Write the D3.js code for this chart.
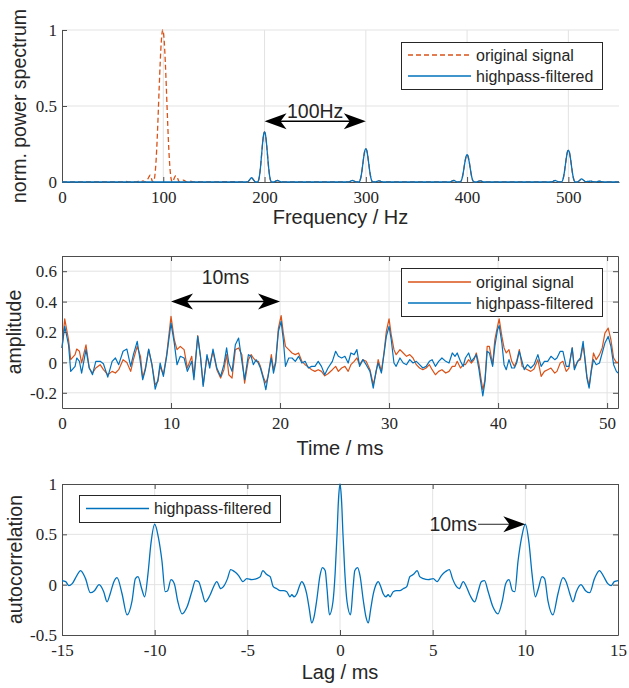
<!DOCTYPE html>
<html>
<head>
<meta charset="utf-8">
<script src="https://cdn.jsdelivr.net/npm/d3@7/dist/d3.min.js"></script>
<style>
  body { margin: 0; background: #fff; }
  svg { display: block; }
  .axis text { font-family: "Liberation Serif", "Times New Roman", serif; font-size: 17px; fill: #262626; }
  .axis line, .axis path { stroke: #4d4d4d; }
  .label { font-family: "Liberation Sans", Arial, sans-serif; fill: #262626; }
</style>
</head>
<body>
<div id="chart"></div>
<script>
// ---- spectrum (top panel) ----
// original signal below 180 Hz (the 100 Hz fundamental)
const specLowFreq = [0, 60, 63, 66, 70, 73, 76, 78, 80, 82, 84, 86, 87, 88, 89, 90, 91, 92, 93, 94,
  95, 96, 97, 98, 99, 99.5, 100, 101, 102, 103, 104, 105, 106, 107, 108, 109, 110, 111, 112, 113,
  114, 115, 116, 118, 120, 122, 124, 127, 130, 135, 138, 150, 160, 170, 180];
const specLowOrig = [0, 0, 0.004, 0, 0.003, 0, 0.006, 0.002, 0.008, 0, 0.012, 0.035, 0.045, 0.03, 0.008, 0, 0.013, 0.061, 0.152, 0.284,
  0.449, 0.627, 0.79, 0.92, 0.99, 1, 0.99, 0.92, 0.79, 0.627, 0.449, 0.284, 0.152, 0.061, 0.013, 0, 0.01, 0.028, 0.04, 0.04,
  0.028, 0.01, 0, 0.006, 0.012, 0.004, 0, 0.005, 0, 0.003, 0, 0, 0.002, 0.002, 0];
const specLowFiltFreq = [0, 180];
const specLowFilt = [0, 0];
// harmonics 200..500 Hz (same in both signals)
const specHarmFreq = [
  183, 185, 187, 189, 191, 193, 194, 195, 196, 197, 198, 199, 200, 201, 202, 203, 204, 205, 206, 207, 209, 211, 213, 215, 217,
  283, 285, 287, 289, 291, 293, 294, 295, 296, 297, 298, 299, 300, 301, 302, 303, 304, 305, 306, 307, 309, 311, 313, 315, 317,
  383, 385, 387, 389, 391, 393, 394, 395, 396, 397, 398, 399, 400, 401, 402, 403, 404, 405, 406, 407, 409, 411, 413, 415, 417,
  483, 485, 487, 489, 491, 493, 494, 495, 496, 497, 498, 499, 500, 501, 502, 503, 504, 505, 506, 507, 509, 511, 513, 515, 517,
  520, 522, 524, 527, 530, 533, 536, 550];
const specHarm = [
  0, 0.012, 0.028, 0.015, 0, 0, 0.009, 0.04, 0.097, 0.173, 0.25, 0.309, 0.33, 0.309, 0.25, 0.173, 0.097, 0.04, 0.009, 0, 0, 0.006, 0.01, 0.004, 0,
  0, 0.006, 0.01, 0.004, 0, 0, 0.006, 0.027, 0.065, 0.116, 0.167, 0.206, 0.22, 0.206, 0.167, 0.116, 0.065, 0.027, 0.006, 0, 0, 0.004, 0.008, 0.003, 0,
  0, 0.006, 0.01, 0.003, 0, 0, 0.005, 0.022, 0.053, 0.095, 0.136, 0.168, 0.18, 0.168, 0.136, 0.095, 0.053, 0.022, 0.005, 0, 0, 0.004, 0.008, 0.003, 0,
  0, 0.005, 0.01, 0.004, 0, 0, 0.005, 0.025, 0.062, 0.11, 0.159, 0.196, 0.21, 0.196, 0.159, 0.11, 0.062, 0.025, 0.005, 0, 0, 0.01, 0.02, 0.012, 0.002,
  0.004, 0.006, 0.002, 0, 0.005, 0.002, 0, 0];

// ---- time signals (middle panel) ----
const timeMs = [
  0, 0.25, 0.6, 0.8, 1.2, 1.35, 1.6, 1.8, 2.2, 2.5, 2.8, 3.1, 3.5, 3.8, 4.2, 4.6, 4.9, 5.2, 5.6, 5.95,
  6.3, 6.55, 6.9, 7.2, 7.4, 7.65, 7.95, 8.25, 8.55, 8.8, 9.0, 9.3, 9.6, 10.0, 10.3, 10.55, 10.85, 11.2, 11.5, 11.9,
  12.1, 12.45, 12.7, 12.95, 13.3, 13.55, 13.85, 14.2, 14.55, 14.85, 15.1, 15.3, 15.6, 15.9, 16.2, 16.5, 16.75,
  17.1, 17.35, 17.55, 17.8, 18.0, 18.2, 18.5, 18.7, 18.9, 19.2, 19.4, 19.6, 19.85, 20.1, 20.3, 20.5, 20.8, 21.1, 21.4, 21.7,
  22.0, 22.3, 22.6, 22.9, 23.2, 23.5, 23.8, 24.1, 24.4, 24.8, 25.1, 25.35, 25.65, 25.95, 26.25, 26.5, 26.8, 27.05, 27.3, 27.6,
  27.9, 28.25, 28.55, 28.8, 29.0, 29.3, 29.55, 29.75, 30.0, 30.2, 30.45, 30.65, 31.0, 31.3, 31.6, 31.9, 32.2, 32.5, 32.8, 33.1,
  33.4, 33.7,
  33.95, 34.25, 34.55, 34.85, 35.2, 35.5, 35.8, 36.05, 36.25, 36.55, 36.8, 37.0, 37.3, 37.55, 37.8, 38.0, 38.25, 38.4, 38.6, 38.8,
  39.0, 39.2, 39.5, 39.7, 39.95, 40.1, 40.35, 40.55, 40.75, 41.0, 41.25, 41.5, 41.7, 41.95, 42.2, 42.4, 42.7, 43.0, 43.3, 43.65,
  43.95, 44.25, 44.55, 44.85, 45.2, 45.4, 45.7, 45.95, 46.25, 46.5, 46.8, 47.0, 47.3, 47.55, 47.8, 47.95, 48.15, 48.35, 48.55, 48.75,
  49.0, 49.3, 49.55, 49.8, 50.1, 50.35, 50.6, 50.85, 51.0];
const ampOrig = [
  0.095, 0.286, 0.149, 0.018, 0.051, 0.088, 0.073, -0.004, 0.116, -0.037, -0.07, -0.037, -0.015, -0.048, -0.081, -0.059, -0.07, -0.048, 0.018, 0,
  -0.059, 0.018, 0.105, 0.04, -0.103, -0.037, 0.084, -0.015, -0.147, -0.125, -0.026, -0.081, 0.051, 0.303, 0.149, 0.084, 0.105, 0.084, -0.037, 0.04,
  -0.092, 0.176, 0.04, -0.147, 0.04, -0.015, 0.073, -0.048, -0.103, -0.048, 0.051, -0.081, -0.103, 0.084, 0.095, 0.051, -0.136,
  0.018, 0.051, 0.029, 0.007, 0.007, -0.026, -0.103, -0.136, -0.092, 0.051, -0.048, 0.007, 0.226, 0.308, 0.193, 0.105, 0.084, 0.062, 0.051, 0.062,
  0.007, -0.015, -0.031, -0.048, -0.059, -0.048, -0.059, -0.088, -0.075, -0.048, -0.026, -0.059, -0.037, -0.026, -0.059, -0.015, 0.007, 0.029, -0.015, 0.018,
  0.007, -0.048, -0.147, -0.07, 0.018, -0.059, 0.073, 0.204, 0.286, 0.182, 0.084, 0.051, 0.084, 0.062, 0.04, 0.051, 0.029, -0.015, -0.037, -0.048,
  -0.037, -0.015,
  -0.048, -0.081, -0.059, -0.048, -0.07, -0.059, -0.026, -0.026, 0.007, -0.037, -0.015, -0.015, 0.018, -0.004, 0.018, 0.062, -0.015, -0.092, -0.18, -0.114,
  0.105, 0.105, -0.015, 0.149, 0.237, 0.286, 0.171, 0.095, 0.062, 0.084, 0.007, -0.026, 0.007, 0.084, -0.026, -0.037, -0.048, -0.059, -0.044, 0.018,
  -0.092, -0.059, -0.048, -0.037, -0.07, -0.059, -0.004, 0.007, -0.059, -0.037, 0.095, -0.037, 0.007, 0.018, 0.116, 0.04, -0.092, -0.158, -0.048, 0.062,
  0.018, 0.051, 0.095, 0.193, 0.226, 0.149, 0.029, 0, 0];
const ampFilt = [
  0.095, 0.237, 0.116, -0.059, -0.026, 0.029, 0.007, -0.07, 0.084, -0.037, -0.081, 0.007, 0.007, -0.009, -0.097, 0.007, 0.029, -0.015, 0.073, 0.088,
  -0.026, 0.051, 0.138, -0.004, -0.114, -0.048, 0.088, -0.015, -0.176, -0.114, -0.004, -0.092, 0.04, 0.259, 0.127, -0.015, 0.04, 0.029, -0.059, 0.007,
  -0.114, 0.171, 0.04, -0.158, 0.051, -0.037, 0.088, -0.037, -0.092, -0.015, 0.095, -0.004, -0.059, 0.116, 0.16, 0.007, -0.114,
  0.051, 0.04, -0.015, 0.018, -0.004, -0.037, -0.114, -0.18, -0.092, 0.029, -0.07, -0.004, 0.204, 0.27, 0.149, -0.026, 0.029, 0.029, 0.007, 0.04,
  -0.004, 0.007, -0.037, -0.026, -0.026, 0.007, -0.026, -0.081, -0.037, 0.007, 0.073, 0.04, 0.029, 0.04, -0.004, 0.062, 0.051, 0.084, -0.026, 0.018,
  -0.015, -0.059, -0.169, -0.059, -0.004, -0.07, 0.062, 0.171, 0.237, 0.149, -0.004, -0.026, 0.029, -0.004, -0.015, 0.018, -0.004, 0.007, -0.015, -0.037,
  -0.026, 0.007,
  0.018, -0.026, 0.007, 0.029, 0.007, -0.004, 0.062, 0.04, 0.062, 0.007, -0.026, 0.029, 0.062, 0.007, 0.029, 0.051, -0.048, -0.125, -0.22, -0.125,
  0.073, 0.062, -0.026, 0.105, 0.215, 0.242, 0.127, -0.015, -0.048, 0.018, -0.037, -0.037, -0.004, 0.073, 0.007, -0.048, -0.015, -0.037, -0.015, 0.051,
  -0.026, 0.007, 0.007, 0.04, 0.018, 0.029, 0.073, 0.073, -0.026, -0.026, 0.095, -0.048, 0.007, 0.029, 0.138, 0.029, -0.103, -0.169, -0.059, 0.018,
  -0.015, -0.004, 0.062, 0.127, 0.171, 0.105, -0.015, -0.059, -0.07];

// ---- autocorrelation (bottom panel) ----
const lagMs = [
  -15.0, -14.8, -14.63, -14.45, -14.2, -14.0, -13.73, -13.47, -13.25, -13.0, -12.75, -12.57, -12.4, -12.2, -12.03, -11.76, -11.49, -11.22, -11.04, -10.9,
  -10.7, -10.54, -10.36, -10.2, -10.0, -9.8, -9.61, -9.43, -9.3, -9.12, -8.94, -8.76, -8.52, -8.25, -7.98, -7.8, -7.63, -7.45, -7.27, -7.03,
  -6.82, -6.65, -6.43, -6.25, -6.07, -5.9, -5.7, -5.47, -5.24, -5.03, -4.76, -4.5, -4.3, -4.17, -3.95, -3.77, -3.6, -3.41, -3.23, -3.05,
  -2.87, -2.7, -2.6, -2.48, -2.33, -2.2, -2.06, -1.97, -1.8, -1.65, -1.53, -1.4, -1.26, -1.08, -0.95, -0.8, -0.7, -0.57, -0.38, -0.26,
  -0.16, -0.08,
  0, 0.08, 0.16, 0.26, 0.38, 0.57, 0.7, 0.8, 0.95, 1.08, 1.26, 1.4, 1.53, 1.65, 1.8, 1.97, 2.06, 2.2, 2.33, 2.48,
  2.6, 2.7, 2.87, 3.05, 3.23, 3.41, 3.6, 3.77, 3.95, 4.17, 4.3, 4.5, 4.76, 5.03, 5.24, 5.47, 5.7, 5.9, 6.07, 6.25,
  6.43, 6.65, 6.82, 7.03, 7.27, 7.45, 7.63, 7.8, 7.98, 8.25, 8.52, 8.76, 8.94, 9.12, 9.3, 9.43, 9.61, 9.8, 10.0, 10.2,
  10.36, 10.54, 10.7, 10.9, 11.04, 11.22, 11.49, 11.76, 12.03, 12.2, 12.4, 12.57, 12.75, 13.0, 13.25, 13.47, 13.73, 14.0, 14.2, 14.45,
  14.63, 14.8, 15.0];
const acf = [
  0.04, 0.03, -0.01, 0.01, 0.09, 0.14, 0.06, -0.08, -0.06, 0, -0.07, -0.17, -0.09, 0.03, 0.07, -0.09, -0.3, -0.16, 0.06, 0.08,
  -0.04, -0.12, 0.11, 0.41, 0.6, 0.47, 0.24, -0.07, -0.06, 0.05, 0.01, -0.16, -0.29, -0.22, -0.06, 0.04, 0.03, -0.07, -0.17, -0.11,
  -0.02, 0.03, -0.04, -0.01, 0.06, 0.15, 0.13, 0.09, 0.03, 0.06, 0.05, 0.06, 0.08, 0.14, 0.1, 0.08, -0.02, -0.04, -0.06, -0.06,
  -0.07, -0.12, -0.1, -0.12, -0.09, -0.02, 0.03, 0.01, -0.09, -0.25, -0.38, -0.32, -0.16, 0.09, 0.17, 0.14, -0.04, -0.3, -0.17, 0.12,
  0.5, 0.85,
  1.0, 0.85, 0.5, 0.12, -0.17, -0.3, -0.04, 0.14, 0.17, 0.09, -0.16, -0.32, -0.38, -0.25, -0.09, 0.01, 0.03, -0.02, -0.09, -0.12,
  -0.1, -0.12, -0.07, -0.06, -0.06, -0.04, -0.02, 0.08, 0.1, 0.14, 0.08, 0.06, 0.05, 0.06, 0.03, 0.09, 0.13, 0.15, 0.06, -0.01,
  -0.04, 0.03, -0.02, -0.11, -0.17, -0.07, 0.03, 0.04, -0.06, -0.22, -0.29, -0.16, 0.01, 0.05, -0.06, -0.07, 0.24, 0.47, 0.6, 0.41,
  0.11, -0.12, -0.04, 0.08, 0.06, -0.16, -0.3, -0.09, 0.07, 0.03, -0.09, -0.17, -0.07, 0, -0.06, -0.08, 0.06, 0.14, 0.09, 0.01,
  -0.01, 0.03, 0.04];

// ticks
const specXTicks = [0, 100, 200, 300, 400, 500];
const specYTicks = [0, 0.5, 1];
const timeXTicks = [0, 10, 20, 30, 40, 50];
const ampYTicks = [-0.2, 0, 0.2, 0.4, 0.6];
const lagXTicks = [-15, -10, -5, 0, 5, 10, 15];
const acfYTicks = [-0.5, 0, 0.5, 1];

const width = 629, height = 688;
const blue = "#0072BD", orange = "#D95319";
const fmt = d => (d < 0 ? "-" : "") + Math.abs(d);

const svg = d3.select("#chart").append("svg")
    .attr("width", width)
    .attr("height", height);

// Sets up one panel: grid, axes, labels, clip; returns scales
function panel(p, idx) {
    const x = d3.scaleLinear().domain(p.xDomain).range([p.left, p.right]);
    const y = d3.scaleLinear().domain(p.yDomain).range([p.bottom, p.top]);
    const g = svg.append("g");

    // grid
    g.append("g").selectAll("line").data(p.xGrid).join("line")
        .attr("x1", d => x(d)).attr("x2", d => x(d))
        .attr("y1", p.top).attr("y2", p.bottom)
        .attr("stroke", "#e3e3e3");
    g.append("g").selectAll("line").data(p.yGrid).join("line")
        .attr("x1", p.left).attr("x2", p.right)
        .attr("y1", d => y(d)).attr("y2", d => y(d))
        .attr("stroke", "#e3e3e3");

    // axes, ticks pointing inward
    const xa = g.append("g").attr("class", "axis")
        .attr("transform", `translate(0,${p.bottom})`)
        .call(d3.axisBottom(x).tickValues(p.xTicks).tickFormat(fmt).tickSizeInner(-5).tickSizeOuter(0));
    xa.selectAll("text").attr("y", 21).attr("dy", null);
    g.append("g").attr("class", "axis")
        .attr("transform", `translate(${p.left},0)`)
        .call(d3.axisLeft(y).tickValues(p.yTicks).tickFormat(fmt).tickSizeInner(-5).tickSizeOuter(0).tickPadding(5))
        .selectAll("text").attr("dy", "0.33em");
    if (p.boxed) {
        g.append("g").attr("class", "axis")
            .attr("transform", `translate(0,${p.top})`)
            .call(d3.axisTop(x).tickValues(p.xTicks).tickFormat("").tickSizeInner(-5).tickSizeOuter(0));
        g.append("g").attr("class", "axis")
            .attr("transform", `translate(${p.right},0)`)
            .call(d3.axisRight(y).tickValues(p.yTicks).tickFormat("").tickSizeInner(-5).tickSizeOuter(0));
    }

    // axis labels
    g.append("text").attr("class", "label")
        .attr("x", (p.left + p.right) / 2).attr("y", p.xLabelY)
        .attr("text-anchor", "middle").attr("font-size", 20)
        .text(p.xLabel);
    g.append("text").attr("class", "label")
        .attr("transform", `translate(${p.yLabelX},${(p.top + p.bottom) / 2}) rotate(-90)`)
        .attr("text-anchor", "middle").attr("font-size", 19.5)
        .text(p.yLabel);

    svg.append("clipPath").attr("id", "clip" + idx)
        .append("rect")
        .attr("x", p.left - 2).attr("y", p.top - 2)
        .attr("width", p.right - p.left + 4).attr("height", p.bottom - p.top + 4);
    const plot = svg.append("g").attr("clip-path", `url(#clip${idx})`);
    return { x, y, plot };
}

function legend(x0, y0, w, h, items) {
    const g = svg.append("g");
    g.append("rect")
        .attr("x", x0 + 0.5).attr("y", y0 + 0.5)
        .attr("width", w).attr("height", h)
        .attr("fill", "#fff").attr("stroke", "#262626");
    items.forEach(it => {
        g.append("line")
            .attr("x1", x0 + 7).attr("x2", x0 + 70)
            .attr("y1", it.y).attr("y2", it.y)
            .attr("stroke", it.color).attr("stroke-width", 1.3)
            .attr("stroke-dasharray", it.dash || null);
        g.append("text").attr("class", "label")
            .attr("x", x0 + 75).attr("y", it.y).attr("dy", "0.35em")
            .attr("font-size", 16).attr("fill", "#000")
            .text(it.label);
    });
}

// filled arrow head with notched back, tip at (tx,ty), dir +1 = pointing right
function head(tx, ty, dir) {
    const L = 22, H = 8, N = 16;
    return `M${tx},${ty}L${tx - dir * L},${ty - H}L${tx - dir * N},${ty}L${tx - dir * L},${ty + H}Z`;
}

function annoText(x, y, s) {
    svg.append("text").attr("class", "label")
        .attr("x", x).attr("y", y)
        .attr("text-anchor", "middle").attr("font-size", 19.5).attr("fill", "#000")
        .text(s);
}

// ---------- top: spectrum ----------
const specP = panel({
    left: 62, right: 619, top: 30, bottom: 182,
    xDomain: [0, 550], yDomain: [0, 1],
    xTicks: specXTicks, yTicks: specYTicks,
    xGrid: [100, 200, 300, 400, 500], yGrid: [0.5, 1],
    boxed: false,
    xLabel: "Frequency / Hz", xLabelY: 224,
    yLabel: "norm. power spectrum", yLabelX: 26
}, 0);

const specLine = d3.line()
    .x(d => specP.x(d[0])).y(d => specP.y(d[1]))
    .curve(d3.curveMonotoneX);
const origSpec = specLowFreq.map((f, i) => [f, specLowOrig[i]])
    .concat(specHarmFreq.map((f, i) => [f, specHarm[i]]));
const filtSpec = specLowFiltFreq.map((f, i) => [f, specLowFilt[i]])
    .concat(specHarmFreq.map((f, i) => [f, specHarm[i]]));

specP.plot.append("path").datum(origSpec)
    .attr("d", specLine).attr("fill", "none")
    .attr("stroke", orange).attr("stroke-width", 1.3).attr("stroke-dasharray", "5,3");
specP.plot.append("path").datum(filtSpec)
    .attr("d", specLine).attr("fill", "none")
    .attr("stroke", blue).attr("stroke-width", 1.3);

legend(401, 42, 201, 47, [
    { label: "original signal", color: orange, dash: "5,3", y: 55 },
    { label: "highpass-filtered", color: blue, y: 76 }
]);

// 100Hz double arrow
{
    const ya = specP.y(0.4), x1 = specP.x(200), x2 = specP.x(300);
    svg.append("line").attr("x1", x1 + 10).attr("x2", x2 - 10).attr("y1", ya).attr("y2", ya)
        .attr("stroke", "#000").attr("stroke-width", 1.5);
    svg.append("path").attr("d", head(x1, ya, -1)).attr("fill", "#000");
    svg.append("path").attr("d", head(x2, ya, 1)).attr("fill", "#000");
    annoText(specP.x(250), 118, "100Hz");
}

// ---------- middle: time signal ----------
const timeP = panel({
    left: 62, right: 618, top: 256, bottom: 408,
    xDomain: [0, 51], yDomain: [-0.3, 0.7],
    xTicks: timeXTicks, yTicks: ampYTicks,
    xGrid: [10, 20, 30, 40, 50], yGrid: [-0.2, 0, 0.2, 0.4, 0.6],
    boxed: true,
    xLabel: "Time / ms", xLabelY: 455,
    yLabel: "amplitude", yLabelX: 21
}, 1);

const ampLine = d3.line()
    .x(d => timeP.x(d[0])).y(d => timeP.y(d[1]));
timeP.plot.append("path").datum(timeMs.map((t, i) => [t, ampOrig[i]]))
    .attr("d", ampLine).attr("fill", "none")
    .attr("stroke", orange).attr("stroke-width", 1.2).attr("stroke-linejoin", "round");
timeP.plot.append("path").datum(timeMs.map((t, i) => [t, ampFilt[i]]))
    .attr("d", ampLine).attr("fill", "none")
    .attr("stroke", blue).attr("stroke-width", 1.2).attr("stroke-linejoin", "round");

legend(401, 268, 201, 48, [
    { label: "original signal", color: orange, y: 282 },
    { label: "highpass-filtered", color: blue, y: 303 }
]);

// 10ms double arrow
{
    const ya = timeP.y(0.4), x1 = timeP.x(10), x2 = timeP.x(20);
    svg.append("line").attr("x1", x1 + 10).attr("x2", x2 - 10).attr("y1", ya).attr("y2", ya)
        .attr("stroke", "#000").attr("stroke-width", 1.5);
    svg.append("path").attr("d", head(x1, ya, -1)).attr("fill", "#000");
    svg.append("path").attr("d", head(x2, ya, 1)).attr("fill", "#000");
    annoText(timeP.x(15), 284, "10ms");
}

// ---------- bottom: autocorrelation ----------
const acfP = panel({
    left: 62, right: 618, top: 484, bottom: 635,
    xDomain: [-15, 15], yDomain: [-0.5, 1],
    xTicks: lagXTicks, yTicks: acfYTicks,
    xGrid: [-10, -5, 0, 5, 10], yGrid: [0, 0.5],
    boxed: true,
    xLabel: "Lag / ms", xLabelY: 679,
    yLabel: "autocorrelation", yLabelX: 21.5
}, 2);

const acfLine = d3.line()
    .x(d => acfP.x(d[0])).y(d => acfP.y(d[1]))
    .curve(d3.curveMonotoneX);
acfP.plot.append("path").datum(lagMs.map((l, i) => [l, acf[i]]))
    .attr("d", acfLine).attr("fill", "none")
    .attr("stroke", blue).attr("stroke-width", 1.3);

legend(79, 495, 201, 27, [
    { label: "highpass-filtered", color: blue, y: 508.5 }
]);

// 10ms single arrow to the lag-10 peak
{
    const ya = acfP.y(0.6), tip = acfP.x(10), tail = acfP.x(7.45);
    svg.append("line").attr("x1", tail).attr("x2", tip - 10).attr("y1", ya).attr("y2", ya)
        .attr("stroke", "#262626").attr("stroke-width", 1);
    svg.append("path").attr("d", head(tip, ya, 1)).attr("fill", "#000");
    svg.append("text").attr("class", "label")
        .attr("x", tail - 1).attr("y", ya).attr("dy", "0.36em")
        .attr("text-anchor", "end").attr("font-size", 19.5).attr("fill", "#000")
        .text("10ms");
}
</script>
</body>
</html>
